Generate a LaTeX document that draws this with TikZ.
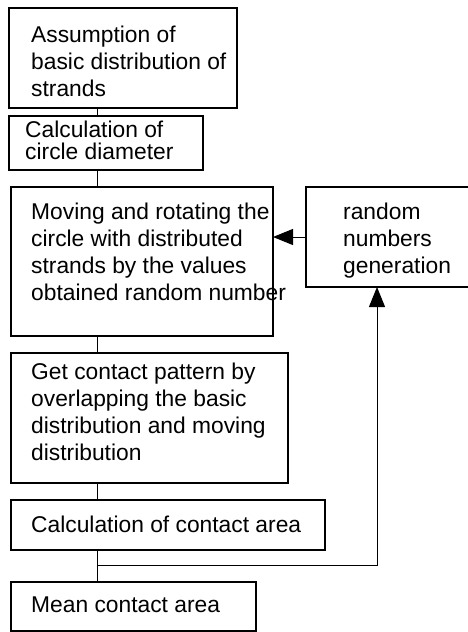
\documentclass[tikz,border=0pt]{standalone}
\usepackage{fontspec}
\setmainfont{Liberation Sans}
\usetikzlibrary{arrows.meta,calc}
\tikzset{
  box/.style={draw, line width=1.1pt, anchor=north west, inner sep=0pt, outer sep=0pt},
  txt/.style={anchor=base west, align=left, inner sep=0pt, font=\fontsize{22.8}{27}\selectfont},
  link/.style={line width=1pt},
  arr/.style={line width=1pt, -{Triangle[length=20pt,width=16pt]}}
}
\begin{document}
\begin{tikzpicture}[x=1pt,y=-1pt]
\useasboundingbox (0,0) rectangle (468,632);
\clip (0,0) rectangle (468,632);
% boxes
\node[box, minimum width=228pt, minimum height=100pt] (b1) at (9,8) {};
\node[box, minimum width=194pt, minimum height=54pt] (b2) at (9,116) {};
\node[box, minimum width=262pt, minimum height=149pt] (b3) at (11,187) {};
\node[box, minimum width=180pt, minimum height=100pt] (rng) at (306,187) {};
\node[box, minimum width=277pt, minimum height=130pt] (b4) at (11,353) {};
\node[box, minimum width=314pt, minimum height=50pt] (b5) at (11,500) {};
\node[box, minimum width=245pt, minimum height=49pt] (b6) at (11,582) {};
% texts (anchor = baseline of last line)
\node[txt] (t1) at (31,96) {Assumption of\\basic distribution of\\strands};
\node[txt, font=\fontsize{22.8}{22}\selectfont] (t2) at (25,159) {Calculation of\\circle diameter};
\node[txt] (t3) at (31,300) {Moving and rotating the\\circle with distributed\\strands by the values\\obtained random number};
\node[txt] (tr) at (343,273) {random\\numbers\\generation};
\node[txt] (t4) at (31,460) {Get contact pattern by\\overlapping the basic\\distribution and moving\\distribution};
\node[txt] (t5) at (31,532) {Calculation of contact area};
\node[txt] (t6) at (31,612) {Mean contact area};
% connectors
\coordinate (cx) at (97,0);
\coordinate (fb) at (377,0);
\coordinate (j) at (97,565);
\draw[link] (b1.south -| cx) -- (b2.north -| cx);
\draw[link] (b2.south -| cx) -- (b3.north -| cx);
\draw[link] (b3.south -| cx) -- (b4.north -| cx);
\draw[link] (b4.south -| cx) -- (b5.north -| cx);
\draw[link] (b5.south -| cx) -- (b6.north -| cx);
\draw[arr] (rng.west |- 0,237) -- (b3.east |- 0,237);
\draw[arr] (j) -| (rng.south -| fb);
\end{tikzpicture}
\end{document}
